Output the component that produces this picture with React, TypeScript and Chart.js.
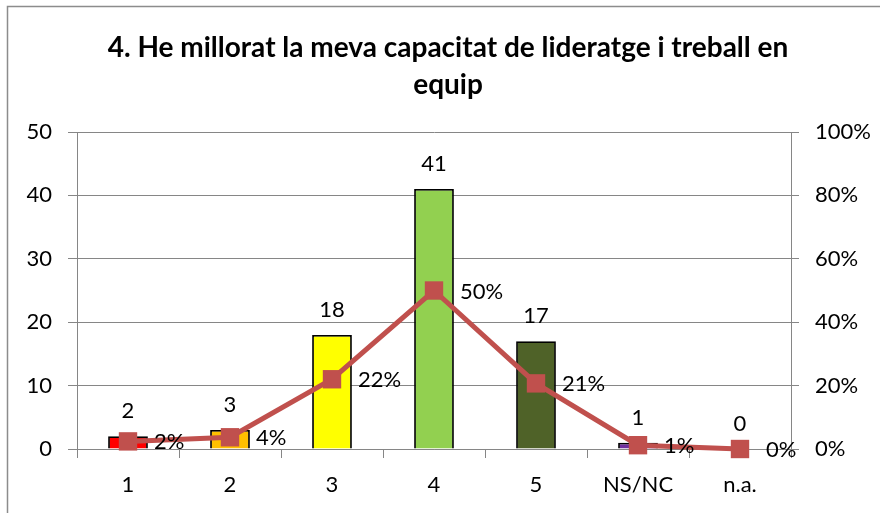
import React, { useEffect, useRef } from "react";
import { Chart, registerables } from "chart.js";

Chart.register(...registerables);

const categories = ["1", "2", "3", "4", "5", "NS/NC", "n.a."];
const counts = [2, 3, 18, 41, 17, 1, 0];
const percents = [2.4, 3.7, 22.0, 50.0, 20.7, 1.2, 0];
const barColors = ["#FF0000", "#FFC000", "#FFFF00", "#92D050", "#4F6228", "#7030A0", "#4F81BD"];
const leftTicks = [0, 10, 20, 30, 40, 50];
const rightTicks = ["0%", "20%", "40%", "60%", "80%", "100%"];
const titleLines = ["4. He millorat la meva capacitat de lideratge i treball en", "equip"];

const FONT = "Lato, 'Open Sans', sans-serif";
const FS = 22;

export default function App() {
  const ref = useRef<HTMLCanvasElement>(null);
  useEffect(() => {
    if (!ref.current) return;
    const decor = {
      id: "decor",
      beforeDraw(chart: any) {
        const ctx = chart.ctx;
        ctx.save();
        ctx.fillStyle = "#ffffff";
        ctx.fillRect(0, 0, chart.width, chart.height);
        ctx.strokeStyle = "#8c8c8c";
        ctx.lineWidth = 1.5;
        ctx.beginPath();
        ctx.moveTo(7.5, chart.height + 5);
        ctx.lineTo(7.5, 6.5);
        ctx.lineTo(chart.width + 5, 6.5);
        ctx.stroke();
        ctx.fillStyle = "#000";
        ctx.font = `bold 28px ${FONT}`;
        ctx.textAlign = "center";
        ctx.textBaseline = "middle";
        ctx.fillText(titleLines[0], 448, 48);
        ctx.fillText(titleLines[1], 448, 85);
        ctx.restore();
      },
      afterDatasetsDraw(chart: any) {
        const ctx = chart.ctx;
        ctx.save();
        ctx.fillStyle = "#000";
        ctx.font = `${FS}px ${FONT}`;
        ctx.textBaseline = "middle";
        const barMeta = chart.getDatasetMeta(1);
        const lineMeta = chart.getDatasetMeta(0);
        barMeta.data.forEach((el: any, i: number) => {
          ctx.textAlign = "center";
          ctx.fillText(String(counts[i]), el.x, el.y - 25);
        });
        lineMeta.data.forEach((el: any, i: number) => {
          ctx.textAlign = "left";
          ctx.fillText(Math.round(percents[i]) + "%", el.x + 26, el.y + 1);
        });
        ctx.restore();
      },
    };
    const grid = "#868686";
    const chart = new Chart(ref.current, {
      type: "bar",
      data: {
        labels: categories,
        datasets: [
          {
            type: "line",
            data: percents,
            yAxisID: "y2",
            borderColor: "#C0504D",
            backgroundColor: "#C0504D",
            borderWidth: 5,
            pointStyle: "rect",
            pointRadius: 13,
            pointBorderWidth: 0,
            clip: false,
            order: 0,
          } as any,
          {
            type: "bar",
            data: counts,
            yAxisID: "y",
            backgroundColor: barColors,
            borderColor: "#000000",
            borderWidth: 1.8,
            barPercentage: 0.39,
            categoryPercentage: 1,
            order: 1,
          },
        ],
      },
      options: {
        responsive: false,
        animation: false,
        layout: { padding: { top: 132, left: 0, right: 0, bottom: 0 } },
        plugins: { legend: { display: false }, title: { display: false }, tooltip: { enabled: false } },
        scales: {
          x: {
            offset: true,
            grid: { display: true, drawOnChartArea: false, offset: true, color: grid, tickLength: 9 },
            border: { color: grid },
            ticks: { font: { family: FONT, size: FS }, color: "#000", padding: 14 },
            afterFit: (s: any) => { s.height = 64; },
          },
          y: {
            min: 0,
            max: 50,
            ticks: { stepSize: 10, font: { family: FONT, size: FS }, color: "#000", padding: 16,
              callback: (v: any) => (leftTicks.includes(v) ? String(v) : "") },
            grid: { color: grid, tickLength: 9 },
            border: { color: grid },
            afterFit: (s: any) => { s.width = 77; },
          },
          y2: {
            position: "right",
            min: 0,
            max: 100,
            ticks: { stepSize: 20, font: { family: FONT, size: FS }, color: "#000", padding: 16,
              callback: (v: any) => rightTicks[Math.round(v / 20)] ?? "" },
            grid: { drawOnChartArea: false, color: grid, tickLength: 8 },
            border: { color: grid },
            afterFit: (s: any) => { s.width = 89; },
          },
        },
      } as any,
      plugins: [decor],
    });
    return () => chart.destroy();
  }, []);
  return (
    <div style={{ position: "absolute", left: 0, top: 0, width: 880, height: 513 }}>
      <canvas ref={ref} width={880} height={513} style={{ display: "block" }} />
    </div>
  );
}
